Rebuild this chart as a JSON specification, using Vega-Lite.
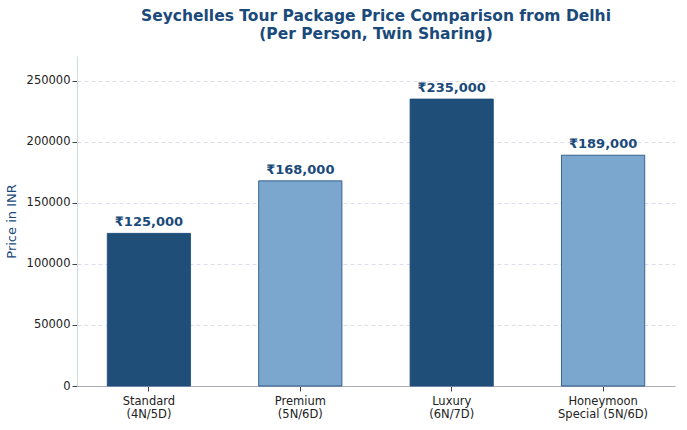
{
  "$schema": "https://vega.github.io/schema/vega-lite/v6.json",
  "width": 687, "height": 430,
  "autosize": {"type": "fit", "contains": "padding"},
  "background": "white",
  "padding": {"left": 5, "right": 12, "top": 8, "bottom": 10},
  "title": {"text": ["Seychelles Tour Package Price Comparison from Delhi", "(Per Person, Twin Sharing)"], "font": "DejaVu Sans", "fontSize": 15.5, "fontWeight": "bold", "color": "#1a4a7a", "lineHeight": 18, "offset": 14},
  "data": {"values": [
    {"pkg": "Standard|(4N/5D)", "price": 125000, "lbl": "₹125,000", "t": "dark"},
    {"pkg": "Premium|(5N/6D)", "price": 168000, "lbl": "₹168,000", "t": "light"},
    {"pkg": "Luxury|(6N/7D)", "price": 235000, "lbl": "₹235,000", "t": "dark"},
    {"pkg": "Honeymoon|Special (5N/6D)", "price": 189000, "lbl": "₹189,000", "t": "light"}
  ]},
  "encoding": {
    "x": {"field": "pkg", "type": "nominal", "sort": null, "title": null,
      "scale": {"paddingInner": 0.45, "paddingOuter": 0.2},
      "axis": {"labelAngle": 0, "labelExpr": "split(datum.label, '|')", "labelFont": "DejaVu Sans", "labelFontSize": 11.5, "labelColor": "#222", "domainColor": "#aab", "tickColor": "#444", "labelPadding": 4}},
    "y": {"field": "price", "type": "quantitative", "title": "Price in INR",
      "scale": {"domain": [0, 270250], "nice": false},
      "axis": {"values": [0, 50000, 100000, 150000, 200000, 250000], "format": "d", "labelFont": "DejaVu Sans", "labelFontSize": 11.5, "labelColor": "#222", "titleFont": "DejaVu Sans", "titleFontSize": 13, "titleFontWeight": "normal", "titleColor": "#1a4a7a", "domainColor": "#cdd", "tickColor": "#444", "gridDash": [4, 3], "gridColor": "#dde", "titlePadding": 8}}
  },
  "layer": [
    {"mark": {"type": "bar", "stroke": "#1a4a7a", "strokeWidth": 0.8},
     "encoding": {"color": {"field": "t", "type": "nominal", "legend": null, "scale": {"domain": ["dark", "light"], "range": ["#1f4e79", "#7ba7cf"]}}}},
    {"mark": {"type": "text", "dy": -11, "font": "DejaVu Sans", "fontSize": 13, "fontWeight": "bold", "color": "#1a4a7a"},
     "encoding": {"text": {"field": "lbl"}}}
  ],
  "config": {"view": {"stroke": null}}
}
